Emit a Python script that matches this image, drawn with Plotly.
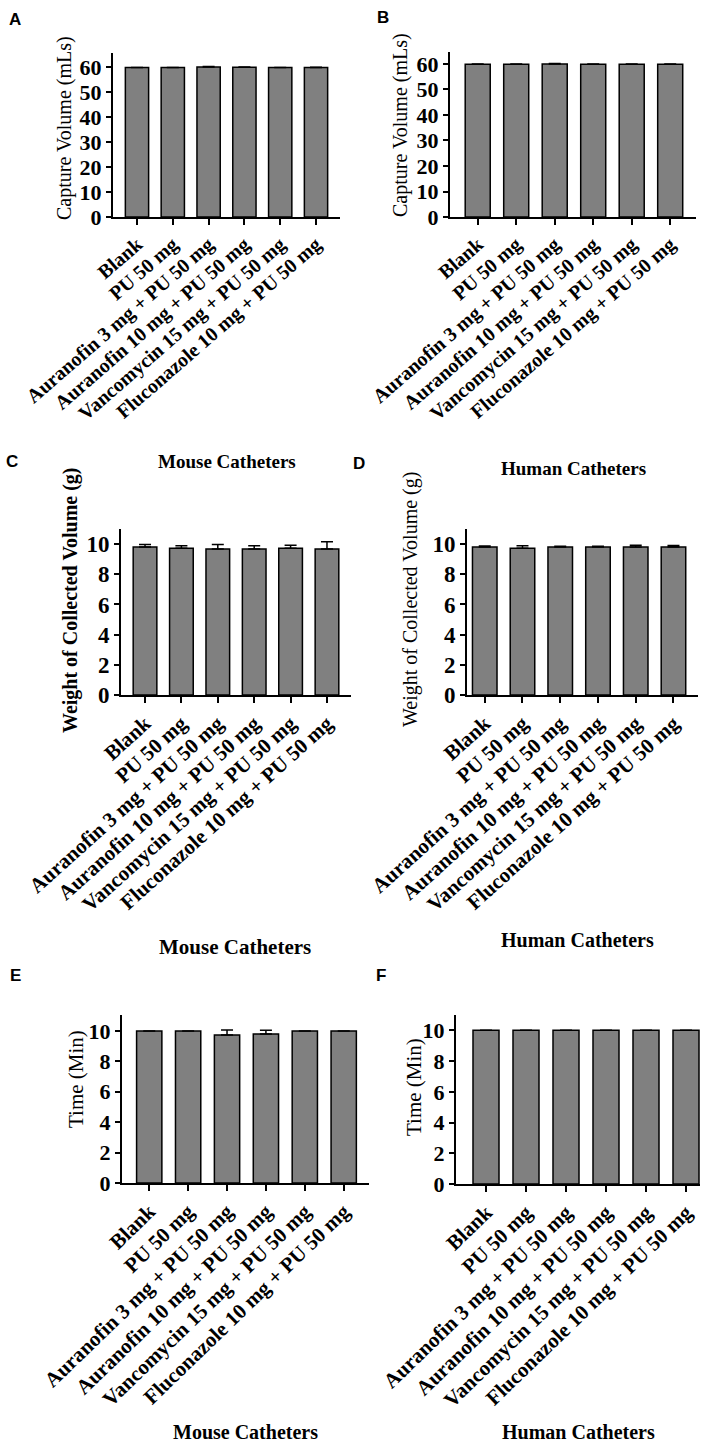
import plotly.graph_objects as go

categories = ["Blank", "PU 50 mg", "Auranofin 3 mg + PU 50 mg", "Auranofin 10 mg + PU 50 mg",
              "Vancomycin 15 mg + PU 50 mg", "Fluconazole 10 mg + PU 50 mg"]

# Panel A: Capture volume, mouse catheters
capture_mouse = [59.8, 59.8, 60.0, 59.9, 59.8, 59.8]
capture_mouse_err = [0.0, 0.0, 0.2, 0.15, 0.0, 0.1]
# Panel B: Capture volume, human catheters
capture_human = [59.9, 59.9, 60.0, 59.9, 59.9, 59.9]
capture_human_err = [0.05, 0.05, 0.15, 0.05, 0.05, 0.05]
# Panel C: Weight, mouse catheters
weight_mouse = [9.80, 9.73, 9.67, 9.67, 9.73, 9.67]
weight_mouse_err = [0.18, 0.16, 0.31, 0.22, 0.20, 0.48]
# Panel D: Weight, human catheters
weight_human = [9.80, 9.73, 9.80, 9.80, 9.80, 9.80]
weight_human_err = [0.07, 0.16, 0.06, 0.06, 0.13, 0.11]
# Panel E: Time, mouse catheters
time_mouse = [10.0, 10.0, 9.74, 9.80, 10.0, 10.0]
time_mouse_err = [0.0, 0.0, 0.33, 0.24, 0.0, 0.0]
# Panel F: Time, human catheters
time_human = [10.0, 10.0, 10.0, 10.0, 10.0, 10.0]
time_human_err = [0.0, 0.0, 0.0, 0.0, 0.0, 0.0]

W, H = 702, 1444

def px(v):
    return v / W
def py(v):
    return 1 - v / H
def xd(a, b):
    return [px(a), px(b)]
def yd(top, bottom):
    return [py(bottom), py(top)]

panels = [
    dict(vals=capture_mouse, err=capture_mouse_err, x=(113, 340), y=(53, 217), xr=[-0.67, 5.67], yr=[0, 65.6], dt=10,
         ytitle="Capture Volume (mLs)", ybold=False, ytx=64, yty=128, title="Mouse Catheters", tx=227, ty=462,
         letter="A", lx=15, ly=20, tfs=20, ang=-41, yfs=22, ytfs=20, ttfs=19),
    dict(vals=capture_human, err=capture_human_err, x=(450, 696), y=(52, 217), xr=[-0.72, 5.67], yr=[0, 64.7], dt=10,
         ytitle="Capture Volume (mLs)", ybold=False, ytx=400, yty=125, title="Human Catheters", tx=573, ty=468,
         letter="B", lx=383, ly=18, tfs=20, ang=-41, yfs=22, ytfs=20, ttfs=19),
    dict(vals=weight_mouse, err=weight_mouse_err, x=(121, 351), y=(529, 695), xr=[-0.66, 5.66], yr=[0, 11], dt=2,
         ytitle="Weight of Collected Volume (g)", ybold=True, ytx=70, yty=600, title="Mouse Catheters", tx=235, ty=947,
         letter="C", lx=12, ly=461, tfs=21, ang=-42, yfs=23, ytfs=20, ttfs=21),
    dict(vals=weight_human, err=weight_human_err, x=(467, 698), y=(529, 695), xr=[-0.47, 5.65], yr=[0, 11], dt=2,
         ytitle="Weight of Collected Volume (g)", ybold=False, ytx=410, yty=600, title="Human Catheters", tx=577, ty=940,
         letter="D", lx=359, ly=463, tfs=21, ang=-42, yfs=23, ytfs=20, ttfs=20),
    dict(vals=time_mouse, err=time_mouse_err, x=(122, 369), y=(1015, 1183), xr=[-0.7, 5.65], yr=[0, 11.05], dt=2,
         ytitle="Time (Min)", ybold=False, ytx=76, yty=1079, title="Mouse Catheters", tx=245, ty=1432,
         letter="E", lx=15, ly=975, tfs=21, ang=-44, yfs=22, ytfs=21, ttfs=20),
    dict(vals=time_human, err=time_human_err, x=(456, 700), y=(1015, 1184), xr=[-0.75, 5.35], yr=[0, 11], dt=2,
         ytitle="Time (Min)", ybold=False, ytx=414, yty=1087, title="Human Catheters", tx=578, ty=1432,
         letter="F", lx=381, ly=975, tfs=21, ang=-44, yfs=22, ytfs=21, ttfs=20),
]

SERIF = "Liberation Serif, Times New Roman, serif"
fig = go.Figure()
annotations = []
layout = {}
for i, p in enumerate(panels, start=1):
    sfx = "" if i == 1 else str(i)
    fig.add_trace(go.Bar(
        x=categories, y=p["vals"], width=0.65,
        marker=dict(color="#808080", line=dict(color="black", width=1.5)),
        error_y=dict(type="data", array=p["err"], arrayminus=[0] * 6, symmetric=False,
                     color="black", thickness=1.5, width=6),
        xaxis="x" + sfx, yaxis="y" + sfx, showlegend=False, hoverinfo="skip",
    ))
    layout["xaxis" + sfx] = dict(
        domain=xd(*p["x"]), anchor="y" + sfx, range=p["xr"], type="category", automargin=False,
        showline=True, linewidth=2, linecolor="black", ticks="outside", ticklen=6, tickwidth=2,
        tickcolor="black", tickangle=p["ang"], showgrid=False, zeroline=False,
        tickfont=dict(family=SERIF, size=p["tfs"], color="black", weight="bold"),
    )
    layout["yaxis" + sfx] = dict(
        domain=yd(*p["y"]), anchor="x" + sfx, range=p["yr"], dtick=p["dt"], tick0=0, automargin=False,
        showline=True, linewidth=2, linecolor="black", ticks="outside", ticklen=5, tickwidth=2,
        tickcolor="black", showgrid=False, zeroline=False,
        tickfont=dict(family=SERIF, size=p["yfs"], color="black", weight="bold"),
    )
    annotations.append(dict(
        text=p["ytitle"], x=px(p["ytx"]), y=py(p["yty"]), xref="paper", yref="paper",
        textangle=-90, showarrow=False, xanchor="center", yanchor="middle",
        font=dict(family=SERIF, size=p["ytfs"], color="black", weight="bold" if p["ybold"] else "normal"),
    ))
    annotations.append(dict(
        text=p["title"], x=px(p["tx"]), y=py(p["ty"]), xref="paper", yref="paper",
        showarrow=False, xanchor="center", yanchor="middle",
        font=dict(family=SERIF, size=p["ttfs"], color="black", weight="bold"),
    ))
    annotations.append(dict(
        text=p["letter"], x=px(p["lx"]), y=py(p["ly"]), xref="paper", yref="paper",
        showarrow=False, xanchor="center", yanchor="middle",
        font=dict(family="Liberation Sans, Arial, sans-serif", size=17, color="black", weight="bold"),
    ))

fig.update_layout(
    width=W, height=H, margin=dict(l=0, r=0, t=0, b=0, autoexpand=False),
    paper_bgcolor="white", plot_bgcolor="white", bargap=0.35, hovermode=False,
    annotations=annotations, **layout,
)
fig.write_html("out.html", config={"displayModeBar": False},
               post_script="document.body.style.margin='0px';")
